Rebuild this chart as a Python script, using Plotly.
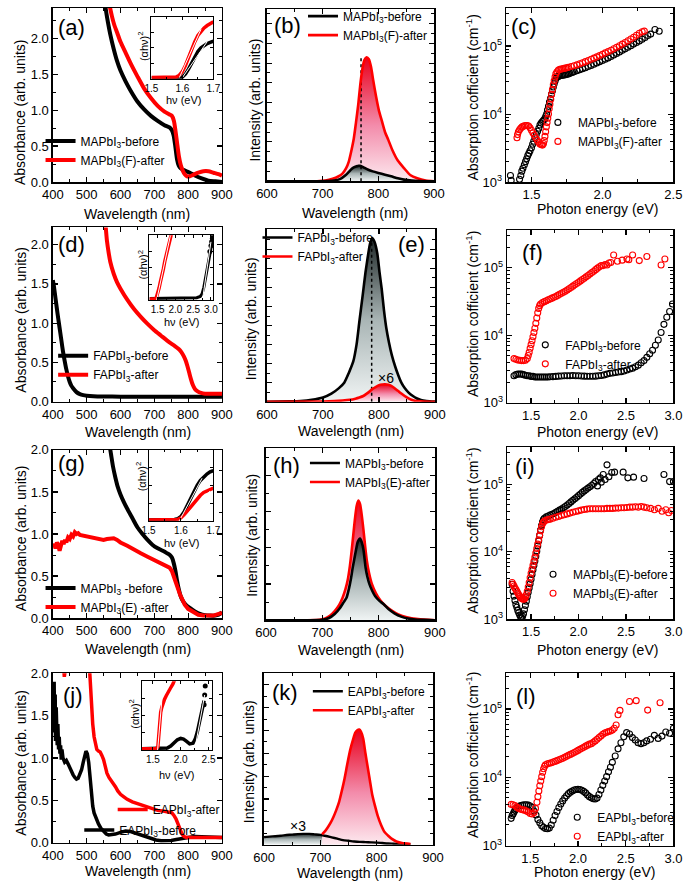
import plotly.graph_objects as go

FONT = "Liberation Sans, Arial, Helvetica, sans-serif"
W, H = 699, 892
RED = "#ff0000"
BLK = "#000000"
RED_FILL = [[0.0, "#fde9ef"], [0.45, "#f38cab"], [1.0, "#e8001c"]]
GRAY_FILL = [[0.0, "#f0f4f4"], [0.5, "#a9b5b5"], [1.0, "#1f2828"]]

# ---------------- (a) MAPbI3 absorbance ----------------
a_before_wl = [555, 560, 570, 580, 590, 600, 615, 630, 650, 670, 690, 710, 730, 745, 752, 757, 762, 767, 772, 778, 785, 795, 805, 820, 840, 860, 880, 900]
a_before_abs = [2.45, 2.3, 2.05, 1.85, 1.68, 1.55, 1.4, 1.27, 1.12, 1.01, 0.92, 0.85, 0.79, 0.76, 0.72, 0.65, 0.5, 0.32, 0.23, 0.19, 0.17, 0.15, 0.13, 0.09, 0.05, 0.02, 0.01, 0.0]
a_after_wl = [568, 575, 582, 590, 600, 615, 630, 650, 670, 690, 710, 730, 745, 752, 758, 763, 768, 773, 778, 784, 790, 797, 805, 815, 830, 845, 860, 875, 890, 900]
a_after_abs = [2.45, 2.3, 2.18, 2.08, 1.95, 1.8, 1.65, 1.47, 1.3, 1.17, 1.06, 0.98, 0.94, 0.92, 0.85, 0.7, 0.52, 0.35, 0.24, 0.16, 0.11, 0.08, 0.08, 0.1, 0.13, 0.15, 0.15, 0.13, 0.11, 0.09]
ai_x = [1.50, 1.52, 1.54, 1.56, 1.58, 1.59, 1.60, 1.61, 1.62, 1.63, 1.64, 1.65, 1.66, 1.67, 1.68, 1.69, 1.70]
ai_after = [0.02, 0.02, 0.02, 0.02, 0.03, 0.06, 0.12, 0.22, 0.35, 0.48, 0.6, 0.7, 0.77, 0.82, 0.86, 0.89, 0.92]
ai_before = [0.01, 0.01, 0.01, 0.01, 0.01, 0.01, 0.03, 0.08, 0.16, 0.26, 0.36, 0.44, 0.5, 0.54, 0.57, 0.59, 0.61]
ai_fit_after_x, ai_fit_after_y = [1.59, 1.66], [0.02, 0.8]
ai_fit_before_x, ai_fit_before_y = [1.60, 1.68], [0.02, 0.6]

# ---------------- (b) MAPbI3 PL ----------------
b_before_wl = [600, 700, 720, 732, 741, 747, 752, 756, 760, 764, 767, 771, 775, 782, 790, 800, 812, 823, 835, 846, 860, 875, 900]
b_before_pl = [0, 0, 0.03, 0.12, 0.3, 0.47, 0.62, 0.7, 0.75, 0.78, 0.78, 0.74, 0.68, 0.58, 0.5, 0.42, 0.33, 0.25, 0.15, 0.08, 0.03, 0.01, 0]
b_after_wl = [600, 690, 705, 718, 728, 736, 742, 747, 752, 756, 760, 764, 768, 772, 775, 779, 783, 787, 791, 796, 801, 806, 812, 818, 825, 835, 846, 858, 870, 885, 900]
b_after_pl = [0, 0, 0.03, 0.12, 0.24, 0.4, 0.65, 1.0, 1.6, 2.17, 3.0, 3.9, 5.0, 5.8, 6.15, 6.3, 6.2, 5.8, 5.1, 4.3, 3.6, 3.1, 2.5, 2.1, 1.6, 1.05, 0.67, 0.3, 0.15, 0.04, 0]
b_peak_wl, b_peak_top = 769, 6.25

# ---------------- (c) MAPbI3 absorption coefficient ----------------
c_before_E = [1.352, 1.357, 1.416, 1.425, 1.432, 1.44, 1.45, 1.458, 1.466, 1.474, 1.482, 1.49, 1.5, 1.508, 1.516, 1.525, 1.534, 1.543, 1.552, 1.56, 1.568, 1.577, 1.585, 1.593, 1.6, 1.607, 1.613, 1.62, 1.627, 1.634, 1.641, 1.648, 1.654, 1.66, 1.667, 1.675, 1.683, 1.692, 1.70, 1.71, 1.72, 1.73, 1.74, 1.75, 1.76, 1.77, 1.78, 1.79, 1.80, 1.82, 1.84, 1.86, 1.88, 1.90, 1.92, 1.94, 1.96, 1.98, 2.00, 2.02, 2.04, 2.06, 2.08, 2.10, 2.12, 2.14, 2.16, 2.18, 2.20, 2.22, 2.24, 2.26, 2.28, 2.30, 2.32, 2.34, 2.37, 2.40]
c_before_a = [1250, 1060, 1100, 1250, 1450, 1600, 1800, 2000, 2200, 2450, 2650, 2900, 3200, 3600, 4000, 4500, 5000, 5600, 6200, 6900, 7400, 7800, 8100, 8500, 9200, 10000, 11500, 13000, 15000, 17000, 19500, 22000, 25000, 28000, 31000, 34000, 35500, 36000, 36500, 37000, 37300, 37600, 38000, 38500, 39000, 39700, 40500, 41300, 42000, 43500, 45000, 46500, 48000, 50000, 52000, 54000, 56500, 59000, 61500, 64000, 67000, 70500, 74000, 78000, 82000, 86500, 91000, 96000, 101000, 107000, 113000, 119000, 126000, 134000, 143000, 150000, 175000, 165000]
c_after_E = [1.398, 1.402, 1.408, 1.416, 1.424, 1.432, 1.44, 1.45, 1.46, 1.47, 1.48, 1.49, 1.5, 1.51, 1.52, 1.53, 1.54, 1.55, 1.56, 1.57, 1.578, 1.585, 1.59, 1.595, 1.60, 1.605, 1.61, 1.615, 1.62, 1.625, 1.63, 1.636, 1.642, 1.648, 1.654, 1.66, 1.666, 1.672, 1.68, 1.69, 1.70, 1.71, 1.72, 1.73, 1.74, 1.75, 1.76, 1.78, 1.80, 1.82, 1.84, 1.86, 1.88, 1.90, 1.92, 1.94, 1.96, 1.98, 2.00, 2.02, 2.04, 2.06, 2.08, 2.10, 2.12, 2.14, 2.16, 2.18, 2.20, 2.22, 2.24, 2.26, 2.28, 2.295]
c_after_a = [4500, 5000, 5500, 5900, 6200, 6450, 6600, 6750, 6800, 6800, 6700, 6300, 5800, 5300, 4900, 4500, 4150, 3850, 3650, 3550, 3500, 3700, 4100, 4700, 5500, 6500, 7500, 8700, 10000, 12000, 14000, 16500, 19500, 23000, 27000, 31000, 35000, 39000, 42000, 44500, 45500, 46000, 46500, 47000, 47500, 48000, 48700, 50000, 51500, 53000, 55000, 57000, 59000, 61500, 64000, 66500, 69500, 72500, 76000, 79500, 83000, 87000, 91500, 96000, 101000, 107000, 113000, 120000, 127000, 135000, 144000, 154000, 162000, 166000]

# ---------------- (d) FAPbI3 absorbance ----------------
d_before_wl = [400, 403, 406, 410, 414, 418, 422, 426, 430, 435, 440, 445, 450, 455, 460, 470, 480, 490, 500, 520, 550, 600, 650, 700, 750, 800, 850, 900]
d_before_abs = [1.55, 1.48, 1.38, 1.25, 1.12, 1.0, 0.88, 0.76, 0.64, 0.52, 0.41, 0.32, 0.25, 0.2, 0.17, 0.12, 0.095, 0.082, 0.075, 0.068, 0.064, 0.062, 0.06, 0.06, 0.06, 0.06, 0.06, 0.06]
d_after_wl = [555, 560, 565, 570, 580, 590, 600, 620, 640, 660, 680, 700, 720, 740, 760, 772, 780, 787, 793, 798, 803, 808, 814, 820, 828, 838, 850, 865, 880, 900]
d_after_abs = [2.3, 2.05, 1.9, 1.78, 1.63, 1.52, 1.44, 1.3, 1.18, 1.08, 0.99, 0.91, 0.84, 0.77, 0.71, 0.67, 0.63, 0.58, 0.52, 0.45, 0.37, 0.29, 0.21, 0.16, 0.13, 0.11, 0.1, 0.1, 0.1, 0.1]
di_after_x = [1.27, 1.35, 1.42, 1.46, 1.50, 1.54, 1.57, 1.60, 1.63, 1.66, 1.70, 1.74, 1.78, 1.82, 1.86, 1.90]
di_after_y = [0.02, 0.02, 0.02, 0.04, 0.1, 0.19, 0.27, 0.33, 0.4, 0.48, 0.6, 0.7, 0.8, 0.88, 0.96, 1.05]
di_before_x = [1.27, 1.4, 1.6, 1.8, 2.0, 2.2, 2.4, 2.6, 2.7, 2.75, 2.8, 2.85, 2.9, 2.95, 3.0, 3.04]
di_before_y = [0.03, 0.03, 0.03, 0.03, 0.03, 0.03, 0.03, 0.04, 0.06, 0.1, 0.2, 0.35, 0.52, 0.7, 0.84, 0.92]
di_dots_x = [2.97, 3.0, 3.02, 3.04, 3.05]
di_dots_y = [0.75, 0.84, 0.9, 0.95, 0.98]
di_fit_after_x, di_fit_after_y = [1.47, 1.86], [0.0, 1.0]
di_fit_before_x, di_fit_before_y = [2.76, 3.0], [0.0, 0.9]

# ---------------- (e) FAPbI3 PL ----------------
e_before_wl = [600, 640, 660, 680, 700, 715, 728, 738, 746, 754, 760, 765, 771, 776, 780, 784, 788, 792, 797, 801, 805, 809, 813, 818, 823, 829, 834, 840, 846, 853, 860, 868, 875, 885, 900]
e_before_pl = [0.0, 0.02, 0.04, 0.1, 0.22, 0.42, 0.7, 1.0, 1.5, 2.1, 3.0, 4.2, 5.6, 6.8, 7.6, 8.3, 8.6, 8.4, 7.8, 6.8, 5.9, 4.8, 3.9, 3.1, 2.45, 1.85, 1.43, 1.0, 0.72, 0.48, 0.31, 0.17, 0.09, 0.04, 0.01]
e_after_wl = [600, 700, 720, 735, 748, 758, 765, 772, 777, 783, 788, 794, 800, 806, 811, 817, 822, 828, 834, 840, 846, 852, 858, 864, 870, 880, 900]
e_after_pl = [0.0, 0.01, 0.03, 0.06, 0.1, 0.16, 0.22, 0.3, 0.4, 0.53, 0.66, 0.77, 0.86, 0.9, 0.91, 0.89, 0.83, 0.71, 0.57, 0.43, 0.3, 0.19, 0.1, 0.05, 0.03, 0.01, 0.0]
e_peak_wl, e_peak_top = 787, 8.6
e_scale_label = ("\u00d76", 812, 1.24)

# ---------------- (f) FAPbI3 absorption coefficient ----------------
f_before_E = [1.32, 1.34, 1.36, 1.38, 1.40, 1.42, 1.44, 1.46, 1.48, 1.50, 1.52, 1.54, 1.56, 1.58, 1.60, 1.62, 1.64, 1.66, 1.68, 1.70, 1.73, 1.76, 1.79, 1.82, 1.85, 1.88, 1.91, 1.94, 1.97, 2.00, 2.03, 2.06, 2.09, 2.12, 2.15, 2.18, 2.21, 2.24, 2.27, 2.30, 2.33, 2.36, 2.39, 2.42, 2.45, 2.48, 2.51, 2.54, 2.57, 2.60, 2.63, 2.66, 2.69, 2.72, 2.75, 2.78, 2.81, 2.84, 2.87, 2.90, 2.93, 2.96, 2.99]
f_before_a = [2500, 2600, 2650, 2650, 2650, 2600, 2550, 2500, 2500, 2450, 2450, 2400, 2400, 2400, 2400, 2400, 2400, 2400, 2400, 2420, 2430, 2450, 2470, 2480, 2500, 2500, 2500, 2520, 2500, 2500, 2480, 2470, 2460, 2460, 2460, 2470, 2500, 2530, 2580, 2650, 2720, 2750, 2800, 2850, 2880, 2950, 3050, 3150, 3250, 3400, 3600, 3900, 4200, 4700, 5300, 6000, 7100, 8500, 11000, 14500, 18500, 22500, 29000]
f_after_E = [1.32, 1.34, 1.36, 1.38, 1.40, 1.42, 1.44, 1.46, 1.47, 1.48, 1.49, 1.50, 1.51, 1.52, 1.53, 1.54, 1.55, 1.56, 1.57, 1.58, 1.59, 1.60, 1.62, 1.64, 1.66, 1.68, 1.70, 1.72, 1.74, 1.76, 1.78, 1.80, 1.82, 1.84, 1.86, 1.88, 1.90, 1.92, 1.94, 1.96, 1.98, 2.00, 2.02, 2.04, 2.06, 2.08, 2.10, 2.12, 2.14, 2.16, 2.18, 2.20, 2.22, 2.24, 2.26, 2.28, 2.30, 2.32, 2.34, 2.37, 2.41, 2.46, 2.51, 2.53, 2.57, 2.64, 2.72, 2.87, 2.91]
f_after_a = [4500, 4400, 4300, 4250, 4200, 4200, 4250, 4500, 5000, 5600, 6400, 7300, 8300, 9500, 11000, 12700, 15000, 18000, 21500, 25000, 27500, 29000, 30500, 31500, 32500, 33500, 34500, 35500, 36500, 37500, 39000, 40500, 42000, 43500, 45000, 47000, 49000, 51000, 53500, 56000, 58500, 61000, 64000, 67000, 70000, 73500, 77000, 81000, 85000, 89000, 94000, 99000, 104000, 108000, 108000, 112000, 110000, 118000, 120000, 155000, 125000, 130000, 135000, 132000, 155000, 128000, 147000, 110000, 135000]

# ---------------- (g) MAPbI3(E) absorbance ----------------
g_before_wl = [568, 572, 578, 585, 592, 600, 610, 620, 635, 650, 665, 680, 695, 710, 725, 738, 746, 752, 757, 762, 767, 772, 778, 785, 795, 805, 820, 835, 850, 865, 880, 890, 900]
g_before_abs = [2.05, 1.95, 1.8, 1.67, 1.56, 1.47, 1.38, 1.3, 1.19, 1.08, 1.0, 0.93, 0.87, 0.83, 0.8, 0.77, 0.75, 0.72, 0.66, 0.57, 0.45, 0.35, 0.26, 0.2, 0.15, 0.12, 0.08, 0.05, 0.035, 0.03, 0.03, 0.04, 0.07]
g_after_wl = [400, 404, 408, 412, 416, 420, 424, 428, 432, 436, 440, 445, 450, 455, 460, 465, 470, 475, 480, 490, 500, 510, 520, 530, 540, 550, 560, 570, 580, 590, 600, 620, 640, 660, 680, 700, 720, 735, 745, 752, 758, 764, 770, 776, 782, 790, 800, 815, 830, 845, 860, 875, 890, 900]
g_after_abs = [0.85, 0.88, 0.83, 0.9, 0.87, 0.8, 0.86, 0.92, 0.88, 0.93, 0.9, 0.96, 0.94, 0.99, 0.97, 1.02, 1.0, 1.01, 0.99, 0.98, 0.97, 0.96, 0.95, 0.94, 0.94, 0.93, 0.94, 0.95, 0.95, 0.93, 0.9, 0.86, 0.81, 0.77, 0.73, 0.69, 0.66, 0.63, 0.6, 0.56, 0.5, 0.42, 0.35, 0.28, 0.22, 0.16, 0.11, 0.07, 0.04, 0.03, 0.03, 0.03, 0.05, 0.06]
gi_x = [1.50, 1.53, 1.56, 1.58, 1.59, 1.60, 1.61, 1.62, 1.63, 1.64, 1.65, 1.66, 1.67, 1.68, 1.69, 1.70]
gi_before = [0.01, 0.01, 0.01, 0.02, 0.03, 0.06, 0.13, 0.22, 0.32, 0.42, 0.5, 0.57, 0.62, 0.66, 0.69, 0.71]
gi_after = [0.01, 0.01, 0.01, 0.01, 0.02, 0.04, 0.08, 0.14, 0.2, 0.26, 0.31, 0.36, 0.4, 0.42, 0.44, 0.46]
gi_fit_before_x, gi_fit_before_y = [1.595, 1.665], [0.0, 0.6]
gi_fit_after_x, gi_fit_after_y = [1.60, 1.69], [0.0, 0.42]

# ---------------- (h) MAPbI3(E) PL ----------------
h_before_wl = [600, 700, 712, 722, 731, 738, 743, 747, 751, 754, 757, 760, 763, 767, 770, 773, 777, 780, 784, 789, 794, 801, 809, 818, 828, 840, 852, 865, 880, 900]
h_before_pl = [0, 0.01, 0.06, 0.17, 0.33, 0.5, 0.62, 0.85, 1.16, 1.45, 1.7, 1.95, 2.16, 2.25, 2.15, 1.95, 1.44, 1.2, 0.98, 0.8, 0.66, 0.54, 0.44, 0.3, 0.19, 0.1, 0.05, 0.02, 0.01, 0]
h_after_wl = [600, 695, 705, 714, 722, 730, 736, 741, 745, 749, 752, 755, 758, 761, 764, 767, 770, 773, 776, 779, 783, 788, 795, 803, 812, 822, 835, 850, 870, 900]
h_after_pl = [0, 0.01, 0.05, 0.13, 0.25, 0.42, 0.62, 0.85, 1.1, 1.5, 1.9, 2.35, 2.8, 3.15, 3.3, 3.2, 2.9, 2.5, 2.05, 1.65, 1.3, 1.0, 0.75, 0.55, 0.4, 0.28, 0.16, 0.08, 0.03, 0]

# ---------------- (i) MAPbI3(E) absorption coefficient ----------------
i_before_E = [1.30, 1.31, 1.32, 1.33, 1.34, 1.35, 1.36, 1.37, 1.38, 1.39, 1.40, 1.41, 1.42, 1.43, 1.44, 1.45, 1.46, 1.47, 1.48, 1.49, 1.50, 1.51, 1.52, 1.53, 1.54, 1.55, 1.56, 1.57, 1.58, 1.59, 1.60, 1.61, 1.62, 1.63, 1.64, 1.66, 1.68, 1.70, 1.72, 1.74, 1.76, 1.78, 1.80, 1.82, 1.84, 1.86, 1.88, 1.90, 1.92, 1.94, 1.96, 1.98, 2.00, 2.02, 2.04, 2.06, 2.08, 2.10, 2.12, 2.14, 2.16, 2.18, 2.20, 2.21, 2.23, 2.24, 2.26, 2.28, 2.30, 2.32, 2.35, 2.38, 2.47, 2.52, 2.58, 2.69, 2.90, 2.96, 3.00]
i_before_a = [3300, 2600, 2200, 1900, 1650, 1500, 1350, 1250, 1150, 1080, 1050, 1100, 1200, 1380, 1600, 1850, 2150, 2500, 2900, 3350, 3900, 4600, 5400, 6300, 7300, 8600, 10200, 12200, 14500, 17500, 21000, 24500, 27500, 30000, 31500, 33000, 34000, 35000, 36000, 37000, 38500, 40000, 41500, 43000, 45000, 47000, 49500, 52000, 55000, 58000, 61000, 64500, 68000, 72000, 76000, 80000, 84000, 88000, 92000, 97000, 103000, 110000, 95000, 118000, 125000, 108000, 140000, 118000, 195000, 130000, 150000, 152000, 152000, 125000, 128000, 122000, 140000, 110000, 110000]
i_after_E = [1.30, 1.31, 1.32, 1.33, 1.34, 1.35, 1.36, 1.37, 1.38, 1.39, 1.40, 1.41, 1.42, 1.43, 1.44, 1.45, 1.46, 1.47, 1.48, 1.49, 1.50, 1.51, 1.52, 1.53, 1.54, 1.55, 1.56, 1.57, 1.58, 1.59, 1.60, 1.61, 1.62, 1.63, 1.64, 1.66, 1.68, 1.70, 1.73, 1.76, 1.79, 1.82, 1.85, 1.88, 1.91, 1.94, 1.97, 2.00, 2.03, 2.06, 2.09, 2.12, 2.15, 2.18, 2.21, 2.24, 2.27, 2.30, 2.33, 2.36, 2.39, 2.42, 2.45, 2.48, 2.51, 2.54, 2.57, 2.60, 2.63, 2.66, 2.69, 2.72, 2.76, 2.80, 2.84, 2.88, 2.92, 2.95, 2.98]
i_after_a = [3500, 3300, 3100, 2900, 2750, 2600, 2450, 2300, 2200, 2100, 2050, 2000, 1980, 2000, 2100, 2300, 2600, 3000, 3500, 4100, 4800, 5500, 6300, 7200, 8300, 9600, 11200, 13000, 15000, 17500, 20500, 23500, 26000, 27500, 28500, 29500, 30000, 30500, 31500, 32500, 33500, 34500, 35500, 36500, 37500, 38500, 39500, 40500, 41500, 42500, 43000, 43500, 43500, 43500, 43500, 43500, 43500, 44000, 44000, 44000, 44500, 44500, 45000, 45000, 45500, 46000, 46000, 46500, 46000, 47000, 46000, 45000, 44000, 42000, 44000, 40000, 42000, 38000, 41000]

# ---------------- (j) EAPbI3 absorbance ----------------
j_before_wl = [400, 402, 404, 405, 407, 408, 410, 411, 413, 415, 417, 419, 421, 423, 425, 427, 430, 435, 440, 445, 450, 455, 460, 465, 470, 475, 480, 485, 490, 494, 498, 502, 506, 510, 514, 518, 522, 528, 535, 542, 550, 558, 565, 575, 585, 600, 615, 630, 645, 660, 675, 690, 705, 720, 735, 750, 765, 780, 800, 820, 840, 860, 880, 900]
j_before_abs = [1.85, 1.6, 1.9, 1.3, 1.75, 1.2, 1.6, 1.35, 1.15, 1.4, 1.1, 1.25, 1.05, 1.15, 0.98, 1.1, 1.0, 0.95, 0.97, 0.93, 0.88, 0.84, 0.8, 0.77, 0.75, 0.76, 0.8, 0.86, 0.95, 1.03, 1.08, 1.05, 0.95, 0.78, 0.58, 0.43, 0.35, 0.28, 0.22, 0.17, 0.13, 0.1, 0.09, 0.09, 0.1, 0.12, 0.135, 0.13, 0.11, 0.08, 0.06, 0.04, 0.03, 0.02, 0.02, 0.025, 0.035, 0.05, 0.06, 0.07, 0.065, 0.06, 0.06, 0.06]
j_after_wl = [428, 431, 434, 437, 440, 505, 508, 511, 514, 518, 522, 526, 530, 535, 540, 545, 550, 555, 560, 566, 572, 578, 585, 592, 600, 610, 620, 635, 650, 670, 690, 710, 730, 745, 752, 758, 764, 770, 776, 782, 788, 795, 805, 820, 840, 860, 880, 900]
j_after_abs = [2.3, 2.0, 1.96, 2.05, 2.3, 2.3, 2.05, 1.8, 1.6, 1.4, 1.25, 1.15, 1.1, 1.08, 1.07, 1.03, 0.98, 0.9, 0.82, 0.77, 0.74, 0.71, 0.66, 0.61, 0.57, 0.54, 0.51, 0.48, 0.46, 0.43, 0.4, 0.38, 0.37, 0.36, 0.35, 0.32, 0.28, 0.22, 0.15, 0.1, 0.07, 0.06, 0.06, 0.06, 0.06, 0.06, 0.06, 0.06]
ji_after_x = [1.30, 1.40, 1.50, 1.56, 1.59, 1.60, 1.61, 1.62, 1.64, 1.66, 1.68, 1.71, 1.74, 1.77, 1.80, 1.83, 1.86, 1.89]
ji_after_y = [0.02, 0.02, 0.02, 0.02, 0.05, 0.15, 0.3, 0.45, 0.55, 0.62, 0.68, 0.74, 0.79, 0.84, 0.88, 0.92, 0.96, 1.02]
ji_before_x = [1.30, 1.50, 1.70, 1.76, 1.82, 1.88, 1.94, 2.00, 2.05, 2.10, 2.16, 2.22, 2.26, 2.30, 2.33, 2.36, 2.39, 2.42]
ji_before_y = [0.02, 0.02, 0.02, 0.03, 0.06, 0.1, 0.15, 0.17, 0.16, 0.13, 0.09, 0.1, 0.16, 0.27, 0.39, 0.5, 0.61, 0.72]
ji_dots_x = [2.42, 2.43, 2.44]
ji_dots_y = [0.66, 0.8, 0.93]
ji_fit_after_x, ji_fit_after_y = [1.585, 1.66], [0.0, 0.72]
ji_fit_before_x, ji_fit_before_y = [2.25, 2.43], [0.0, 0.8]

# ---------------- (k) EAPbI3 PL ----------------
k_before_wl = [600, 610, 620, 630, 640, 650, 660, 670, 680, 690, 700, 710, 720, 730, 740, 750, 760, 770, 780, 790, 800, 810, 820, 830, 840, 850, 860]
k_before_pl = [0.33, 0.35, 0.37, 0.39, 0.42, 0.44, 0.46, 0.47, 0.47, 0.45, 0.43, 0.38, 0.32, 0.26, 0.2, 0.17, 0.14, 0.12, 0.11, 0.1, 0.09, 0.07, 0.05, 0.04, 0.03, 0.02, 0.01]
k_after_wl = [703, 708, 713, 718, 723, 728, 733, 738, 743, 748, 753, 758, 762, 766, 769, 772, 776, 780, 784, 788, 792, 797, 802, 808, 814, 820, 827, 835, 845, 860]
k_after_pl = [0.45, 0.58, 0.75, 0.95, 1.2, 1.5, 1.85, 2.35, 2.9, 3.55, 4.15, 4.6, 4.9, 5.02, 5.04, 4.95, 4.65, 4.0, 3.4, 2.8, 2.2, 1.7, 1.25, 0.85, 0.55, 0.4, 0.25, 0.14, 0.07, 0.03]
k_scale_label = ("\u00d73", 660, 0.82)

# ---------------- (l) EAPbI3 absorption coefficient ----------------
l_before_E = [1.30, 1.31, 1.32, 1.33, 1.34, 1.35, 1.36, 1.38, 1.40, 1.42, 1.44, 1.46, 1.48, 1.50, 1.52, 1.54, 1.56, 1.58, 1.60, 1.62, 1.64, 1.66, 1.68, 1.70, 1.72, 1.74, 1.76, 1.78, 1.80, 1.82, 1.84, 1.86, 1.88, 1.90, 1.92, 1.94, 1.96, 1.98, 2.00, 2.02, 2.04, 2.06, 2.08, 2.10, 2.12, 2.14, 2.16, 2.18, 2.20, 2.22, 2.24, 2.26, 2.28, 2.30, 2.32, 2.34, 2.36, 2.39, 2.42, 2.45, 2.48, 2.51, 2.54, 2.57, 2.60, 2.63, 2.66, 2.69, 2.72, 2.76, 2.80, 2.84, 2.88, 2.92, 2.96, 3.00]
l_before_a = [2500, 2750, 2900, 3100, 3300, 3450, 3600, 3750, 3850, 3900, 3950, 3950, 3900, 3800, 3600, 3200, 2800, 2400, 2150, 1950, 1850, 1780, 1760, 1800, 2000, 2350, 2750, 3150, 3600, 4050, 4500, 4950, 5350, 5750, 6050, 6300, 6500, 6600, 6650, 6600, 6450, 6200, 5900, 5500, 5200, 5000, 4850, 4800, 4950, 5600, 6500, 7600, 8800, 10200, 12000, 14000, 16500, 20500, 26000, 32000, 39000, 45000, 43000, 38000, 35000, 32000, 31000, 32000, 34000, 36000, 41000, 37000, 40000, 46000, 44000, 52000]
l_after_E = [1.30, 1.32, 1.34, 1.36, 1.38, 1.40, 1.42, 1.44, 1.46, 1.48, 1.50, 1.52, 1.54, 1.555, 1.57, 1.58, 1.59, 1.60, 1.61, 1.62, 1.63, 1.64, 1.65, 1.66, 1.68, 1.70, 1.72, 1.74, 1.76, 1.78, 1.80, 1.82, 1.84, 1.86, 1.88, 1.90, 1.92, 1.94, 1.96, 1.98, 2.00, 2.02, 2.04, 2.06, 2.08, 2.10, 2.12, 2.14, 2.16, 2.18, 2.20, 2.22, 2.24, 2.26, 2.28, 2.30, 2.32, 2.34, 2.36, 2.38, 2.40, 2.42, 2.44, 2.54, 2.61, 2.73, 2.86]
l_after_a = [4000, 3950, 3850, 3650, 3500, 3400, 3350, 3300, 3200, 3100, 2950, 2900, 3050, 3500, 4300, 5200, 6300, 7500, 8800, 10200, 11800, 13300, 14500, 15200, 15700, 16000, 16300, 16700, 17100, 17500, 18000, 18500, 19000, 19600, 20200, 20900, 21600, 22300, 23000, 23800, 24700, 25600, 26500, 27500, 28500, 29500, 30500, 31000, 32500, 34000, 36000, 38000, 40000, 42500, 44500, 45500, 46500, 47500, 49000, 52000, 58000, 82000, 95000, 128000, 132000, 96000, 123000]

# tick labels
log_tickvals = [1e3, 1e4, 1e5]
log_ticktext = ["10<sup>3</sup>", "10<sup>4</sup>", "10<sup>5</sup>"]
log_minor = [m * 10 ** p for p in (3, 4, 5) for m in (2, 3, 4, 5, 6, 7, 8, 9)]

# ======================================================================
fig = go.Figure()


def ids(n):
    return ("x" if n == 1 else f"x{n}", "y" if n == 1 else f"y{n}")


def line(n, x, y, color, width, name=None, legend="legend", rank=1000, dash=None, shape="spline"):
    xa, ya = ids(n)
    fig.add_trace(go.Scatter(
        x=x, y=y, mode="lines", xaxis=xa, yaxis=ya,
        line=dict(color=color, width=width, dash=dash, shape=shape, smoothing=0.6),
        name=name if name else "", showlegend=name is not None, legend=legend,
        legendrank=rank, hoverinfo="skip"))


def fillg(n, x, y, cscale):
    xa, ya = ids(n)
    fig.add_trace(go.Scatter(
        x=x, y=y, mode="lines", xaxis=xa, yaxis=ya,
        line=dict(width=0, shape="spline", smoothing=0.6), fill="tozeroy",
        fillgradient=dict(type="vertical", colorscale=cscale),
        showlegend=False, hoverinfo="skip"))


def circles(n, x, y, color, name, legend):
    xa, ya = ids(n)
    fig.add_trace(go.Scatter(
        x=x, y=y, mode="markers", xaxis=xa, yaxis=ya,
        marker=dict(symbol="circle-open", size=6, color=color, line=dict(width=1.1)),
        name=name, legend=legend, hoverinfo="skip"))


def filled_dots(n, x, y):
    xa, ya = ids(n)
    fig.add_trace(go.Scatter(
        x=x, y=y, mode="markers", xaxis=xa, yaxis=ya,
        marker=dict(symbol="circle", size=5, color=BLK),
        showlegend=False, hoverinfo="skip"))


def vline(n, xval, top):
    line(n, [xval, xval], [0, top], BLK, 1.5, dash="dot", shape="linear")


MAPB = "MAPbI<sub>3</sub>"
FAPB = "FAPbI<sub>3</sub>"
EAPB = "EAPbI<sub>3</sub>"

# (a)
line(1, a_before_wl, a_before_abs, BLK, 4, MAPB + "-before", "legend")
line(1, a_after_wl, a_after_abs, RED, 4, MAPB + "(F)-after", "legend")
# (b)
fillg(2, b_after_wl, b_after_pl, RED_FILL)
fillg(2, b_before_wl, b_before_pl, GRAY_FILL)
vline(2, b_peak_wl, b_peak_top)
line(2, b_after_wl, b_after_pl, RED, 2.6, MAPB + "(F)-after", "legend2", rank=2)
line(2, b_before_wl, b_before_pl, BLK, 2.6, MAPB + "-before", "legend2", rank=1)
# (c)
circles(3, c_before_E, c_before_a, BLK, MAPB + "-before", "legend3")
circles(3, c_after_E, c_after_a, RED, MAPB + "(F)-after", "legend3")
# (d)
line(4, d_before_wl, d_before_abs, BLK, 4, FAPB + "-before", "legend4")
line(4, d_after_wl, d_after_abs, RED, 4, FAPB + "-after", "legend4")
# (e)
fillg(5, e_before_wl, e_before_pl, GRAY_FILL)
fillg(5, e_after_wl, e_after_pl, RED_FILL)
vline(5, e_peak_wl, e_peak_top)
line(5, e_before_wl, e_before_pl, BLK, 2.6, FAPB + "-before", "legend5")
line(5, e_after_wl, e_after_pl, RED, 2.6, FAPB + "-after", "legend5")
# (f)
circles(6, f_before_E, f_before_a, BLK, FAPB + "-before", "legend6")
circles(6, f_after_E, f_after_a, RED, FAPB + "-after", "legend6")
# (g)
line(7, g_before_wl, g_before_abs, BLK, 4, MAPB + " -before", "legend7")
line(7, g_after_wl, g_after_abs, RED, 4, MAPB + "(E) -after", "legend7", shape="linear")
# (h)
fillg(8, h_after_wl, h_after_pl, RED_FILL)
fillg(8, h_before_wl, h_before_pl, GRAY_FILL)
line(8, h_after_wl, h_after_pl, RED, 2.6, MAPB + "(E)-after", "legend8", rank=2)
line(8, h_before_wl, h_before_pl, BLK, 2.6, MAPB + "-before", "legend8", rank=1)
# (i)
circles(9, i_before_E, i_before_a, BLK, MAPB + "(E)-before", "legend9")
circles(9, i_after_E, i_after_a, RED, MAPB + "(E)-after", "legend9")
# (j)
line(10, j_before_wl, j_before_abs, BLK, 3.5, EAPB + "-before", "legend11", shape="linear")
line(10, j_after_wl, j_after_abs, RED, 3.5, EAPB + "-after", "legend10", shape="linear")
# (k)
fillg(11, k_before_wl, k_before_pl, GRAY_FILL)
fillg(11, k_after_wl, k_after_pl, RED_FILL)
line(11, k_before_wl, k_before_pl, BLK, 2.4, EAPB + "-before", "legend12")
line(11, k_after_wl, k_after_pl, RED, 2.6, EAPB + "-after", "legend12")
# (l)
circles(12, l_before_E, l_before_a, BLK, EAPB + "-before", "legend13")
circles(12, l_after_E, l_after_a, RED, EAPB + "-after", "legend13")

# insets
line(13, ai_x, ai_before, BLK, 3.5, shape="linear")
line(13, ai_x, ai_after, RED, 3.5, shape="linear")
line(13, ai_fit_before_x, ai_fit_before_y, "white", 1, shape="linear")
line(13, ai_fit_after_x, ai_fit_after_y, "white", 1, shape="linear")

line(14, di_before_x, di_before_y, BLK, 3, shape="linear")
filled_dots(14, di_dots_x, di_dots_y)
line(14, di_after_x, di_after_y, RED, 3.5, shape="linear")
line(14, di_fit_before_x, di_fit_before_y, "white", 1, shape="linear")
line(14, di_fit_after_x, di_fit_after_y, "white", 1, shape="linear")

line(15, gi_x, gi_before, BLK, 3.5, shape="linear")
line(15, gi_x, gi_after, RED, 3.5, shape="linear")
line(15, gi_fit_before_x, gi_fit_before_y, "white", 1, shape="linear")
line(15, gi_fit_after_x, gi_fit_after_y, "white", 1, shape="linear")

line(16, ji_before_x, ji_before_y, BLK, 3.5, shape="linear")
filled_dots(16, ji_dots_x, ji_dots_y)
line(16, ji_after_x, ji_after_y, RED, 3.5, shape="linear")
line(16, ji_fit_before_x, ji_fit_before_y, "white", 1, shape="linear")
line(16, ji_fit_after_x, ji_fit_after_y, "white", 1, shape="linear")

# ======================================================================
layout = {}


def minor(d, ln=3):
    return dict(ticks="inside", ticklen=ln, tickwidth=1, tickcolor="black", dtick=d, showgrid=False)


def set_axes(n, xpx, ypx, xextra, yextra, inset=False):
    xk = "xaxis" if n == 1 else f"xaxis{n}"
    yk = "yaxis" if n == 1 else f"yaxis{n}"
    xa, ya = ids(n)
    base = dict(showline=True, linecolor="black", linewidth=1.0 if inset else 1.3, mirror="ticks",
                ticks="inside", ticklen=3 if inset else 5, tickwidth=1.0 if inset else 1.2,
                tickcolor="black", showgrid=False, zeroline=False, fixedrange=True,
                tickfont=dict(size=10 if inset else 13, family=FONT, color="black"))
    xd = dict(base, domain=[xpx[0] / W, xpx[1] / W], anchor=ya)
    xd.update(xextra)
    yd = dict(base, domain=[1 - ypx[1] / H, 1 - ypx[0] / H], anchor=xa)
    yd.update(yextra)
    layout[xk] = xd
    layout[yk] = yd


wl_abs_x = dict(range=[399.5, 900.5], dtick=100, tick0=0, minor=minor(50))
wl_pl_x = dict(range=[599.5, 900.5], dtick=100, tick0=0, minor=minor(50))
e_x = dict(range=[1.245, 3.0005], dtick=0.5, tick0=0, tickformat=".1f", minor=minor(0.25))


def abs_y(top):
    return dict(range=[-0.002, top], dtick=0.5, tick0=0, tickformat=".1f", minor=minor(0.25))


def pl_y(top):
    return dict(range=[0, top], dtick=1, tick0=0, showticklabels=False, minor=minor(0.5))


def log_y(top):
    return dict(type="log", range=[2.999, top], tickmode="array", tickvals=log_tickvals,
                ticktext=log_ticktext,
                minor=dict(ticks="inside", ticklen=3, tickwidth=1, tickcolor="black",
                           tickmode="array", tickvals=log_minor, showgrid=False))


set_axes(1, (43, 218), (1, 178), wl_abs_x, abs_y(2.42))
set_axes(2, (264, 437), (2, 177), wl_pl_x, pl_y(8.75))
set_axes(3, (511, 684), (1, 178), dict(range=[1.32, 2.5005], dtick=0.5, tick0=0, tickformat=".1f", minor=minor(0.25)), log_y(5.56))
set_axes(4, (43, 218), (224, 401), wl_abs_x, abs_y(2.22))
set_axes(5, (264, 438), (226, 401), wl_pl_x, pl_y(9.05))
set_axes(6, (512, 684), (227, 402), e_x, log_y(5.555))
set_axes(7, (43, 218), (450, 621), wl_abs_x, abs_y(2.0))
set_axes(8, (263, 438), (448, 623), wl_pl_x, pl_y(4.75))
set_axes(9, (512, 684), (447, 622), e_x, log_y(5.555))
set_axes(10, (43, 218), (677, 849), wl_abs_x, abs_y(2.0))
set_axes(11, (261, 436), (677, 851), wl_pl_x, pl_y(7.5))
set_axes(12, (511, 684), (677, 852), e_x, log_y(5.52))

inset_y = dict(range=[0, 1.0], dtick=0.25, showticklabels=False)
set_axes(13, (145, 209), (10, 73), dict(range=[1.4999, 1.7001], dtick=0.1, tick0=0, tickformat=".1f", minor=minor(0.05, 2)), inset_y, inset=True)
set_axes(14, (143, 209), (232, 298), dict(range=[1.27, 3.07], dtick=0.5, tick0=0, tickformat=".1f", minor=minor(0.25, 2)), inset_y, inset=True)
set_axes(15, (142, 209), (450, 522), dict(range=[1.4999, 1.7001], dtick=0.1, tick0=0, tickformat=".1f", minor=minor(0.05, 2)), inset_y, inset=True)
set_axes(16, (135, 208), (685, 755), dict(range=[1.3, 2.57], dtick=0.5, tick0=0, tickformat=".1f", minor=minor(0.25, 2)), inset_y, inset=True)

# legends (positions in px: left, top)
leg_pos = {
    "legend": (30.5, 121.5), "legend2": (301.5, -5.5), "legend3": (544, 102.5),
    "legend4": (43.5, 339.5), "legend5": (254.5, 219.5), "legend6": (531, 328.5),
    "legend7": (30.5, 575.5), "legend8": (303.5, 448.5), "legend9": (539, 561.5),
    "legend10": (105, 800.5), "legend11": (70.5, 821.5), "legend12": (306.5, 680.5),
    "legend13": (564, 808.5),
}
for k, (lx, ty) in leg_pos.items():
    layout[k] = dict(x=lx / W, y=1 - ty / H, xanchor="left", yanchor="top",
                     bgcolor="rgba(0,0,0,0)", borderwidth=0,
                     font=dict(size=12, family=FONT, color="black"))

annotations = []


def ann(text, xpx, ypx, size=14, angle=0):
    annotations.append(dict(text=text, x=xpx / W, y=1 - ypx / H, xref="paper", yref="paper",
                            showarrow=False, textangle=angle, xanchor="center", yanchor="middle",
                            font=dict(size=size, family=FONT, color="black")))


def data_ann(n, label):
    xa, ya = ids(n)
    annotations.append(dict(text=label[0], x=label[1], y=label[2], xref=xa, yref=ya,
                            showarrow=False, xanchor="center", yanchor="middle",
                            font=dict(size=14, family=FONT, color="black")))


# panel labels
for t, xp, yp in [("(a)", 62, 21), ("(b)", 285, 19), ("(c)", 530, 20),
                  ("(d)", 62, 241), ("(e)", 414, 241), ("(f)", 538, 249),
                  ("(g)", 62, 464), ("(h)", 284, 466), ("(i)", 531, 467),
                  ("(j)", 64, 699), ("(k)", 283, 696), ("(l)", 532, 701)]:
    ann(t, xp, yp, size=22)

# x titles
for t, xp, yp in [("Wavelength (nm)", 130, 210), ("Wavelength (nm)", 355, 209), ("Photon energy (eV)", 606, 205),
                  ("Wavelength (nm)", 131, 432), ("Wavelength (nm)", 351, 431), ("Photon energy (eV)", 606, 432),
                  ("Wavelength (nm)", 131, 652), ("Wavelength (nm)", 351, 653), ("Photon energy (eV)", 606, 653),
                  ("Wavelength (nm)", 131, 878), ("Wavelength (nm)", 350, 880), ("Photon energy (eV)", 602, 879)]:
    ann(t, xp, yp, size=14)

# y titles
ABS_T = "Absorbance (arb. units)"
INT_T = "Intensity (arb. units)"
COEF_T = "Absorption cofficient (cm<sup>-1</sup>)"
for t, xp, yp in [(ABS_T, 10, 107), (INT_T, 251, 95), (COEF_T, 476, 92),
                  (ABS_T, 10, 318), (INT_T, 248, 317), (COEF_T, 476, 312),
                  (ABS_T, 10, 540), (INT_T, 248, 537), (COEF_T, 476, 532),
                  (ABS_T, 10, 768), (INT_T, 246, 767), (COEF_T, 476, 760)]:
    ann(t, xp, yp, size=14, angle=-90)

# inset titles
for xp, yp in [(178, 94), (176, 320), (176, 545), (171, 780)]:
    ann("h\u03bd (eV)", xp, yp, size=11)
for xp, yp in [(137, 40), (136, 262), (134, 477), (127, 718)]:
    ann("(\u03b1h\u03bd)<sup>2</sup>", xp, yp, size=11, angle=-90)

data_ann(5, e_scale_label)
data_ann(11, k_scale_label)

layout["annotations"] = annotations
fig.update_layout(**layout)
fig.update_layout(width=W, height=H, margin=dict(l=0, r=0, t=0, b=0),
                  paper_bgcolor="white", plot_bgcolor="white",
                  font=dict(family=FONT, color="black"), showlegend=True)

fig.write_html("out.html", config={"displayModeBar": False, "staticPlot": True},
               post_script="document.body.style.margin='0px';document.body.style.padding='0px';"
                           "document.documentElement.style.overflow='hidden';")
